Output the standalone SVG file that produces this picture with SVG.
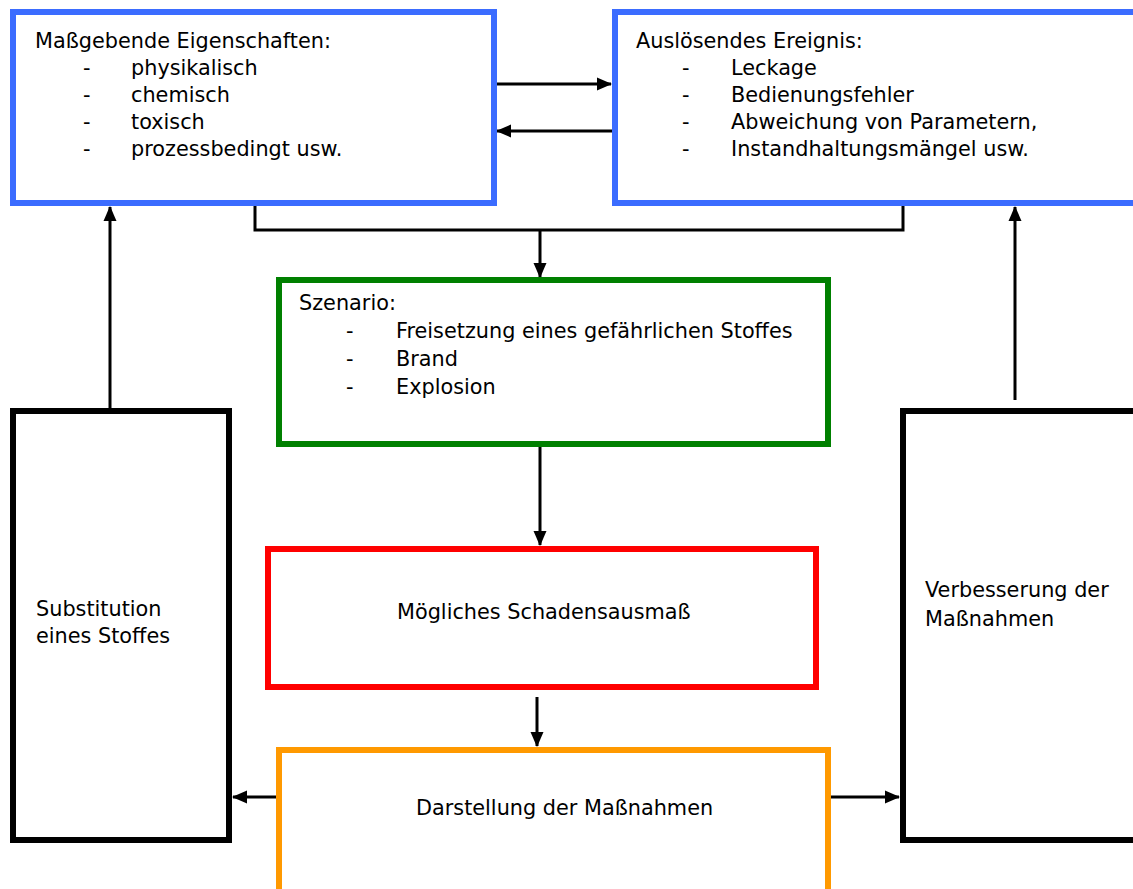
<svg xmlns="http://www.w3.org/2000/svg" width="1133" height="889" viewBox="0 0 1133 889">
<defs>
<style>
.box{fill:#fff;stroke-width:6}
.blue{stroke:#3B6CFF}
.green{stroke:#008000}
.red{stroke:#FF0000}
.orange{stroke:#FF9900}
.black{stroke:#000}
.t{font-family:"DejaVu Sans","Liberation Sans",sans-serif;font-size:20.8px;fill:#000}
.c{fill:none;stroke:#000;stroke-width:3}
</style>
<marker id="ah" markerUnits="userSpaceOnUse" markerWidth="15" markerHeight="15" viewBox="0 0 15 15" refX="14" refY="7.5" orient="auto">
<path d="M0,1 L15,7.5 L0,14 Z" fill="#000"/>
</marker>
</defs>
<rect width="1133" height="889" fill="#fff"/>
<g id="connectors">
<line class="c" x1="496" y1="84" x2="611" y2="84" marker-end="url(#ah)"/>
<line class="c" x1="612" y1="131" x2="497" y2="131" marker-end="url(#ah)"/>
<polyline class="c" points="255,206 255,230 903,230 903,206"/>
<line class="c" x1="540" y1="230" x2="540" y2="277" marker-end="url(#ah)"/>
<line class="c" x1="540" y1="446" x2="540" y2="545" marker-end="url(#ah)"/>
<line class="c" x1="537" y1="697" x2="537" y2="746" marker-end="url(#ah)"/>
<line class="c" x1="110" y1="408" x2="110" y2="207" marker-end="url(#ah)"/>
<line class="c" x1="1015" y1="400" x2="1015" y2="207" marker-end="url(#ah)"/>
<line class="c" x1="276" y1="797" x2="233" y2="797" marker-end="url(#ah)"/>
<line class="c" x1="830" y1="797" x2="899" y2="797" marker-end="url(#ah)"/>
</g>
<g id="eigenschaften">
<rect class="box blue" x="13" y="12" width="481" height="191"/>
<text class="t" x="35" y="48">Maßgebende Eigenschaften:</text>
<text class="t" x="83" y="75">-</text><text class="t" x="131" y="75">physikalisch</text>
<text class="t" x="83" y="102">-</text><text class="t" x="131" y="102">chemisch</text>
<text class="t" x="83" y="129">-</text><text class="t" x="131" y="129">toxisch</text>
<text class="t" x="83" y="156">-</text><text class="t" x="131" y="156">prozessbedingt usw.</text>
</g>
<g id="ereignis">
<rect class="box blue" x="615" y="12" width="530" height="191"/>
<text class="t" x="636" y="48">Auslösendes Ereignis:</text>
<text class="t" x="682" y="75">-</text><text class="t" x="731" y="75">Leckage</text>
<text class="t" x="682" y="102">-</text><text class="t" x="731" y="102">Bedienungsfehler</text>
<text class="t" x="682" y="129">-</text><text class="t" x="731" y="129">Abweichung von Parametern,</text>
<text class="t" x="682" y="156">-</text><text class="t" x="731" y="156">Instandhaltungsmängel usw.</text>
</g>
<g id="szenario">
<rect class="box green" x="279" y="280" width="549" height="164"/>
<text class="t" x="299" y="310">Szenario:</text>
<text class="t" x="346" y="338">-</text><text class="t" x="396" y="338">Freisetzung eines gefährlichen Stoffes</text>
<text class="t" x="346" y="366">-</text><text class="t" x="396" y="366">Brand</text>
<text class="t" x="346" y="394">-</text><text class="t" x="396" y="394">Explosion</text>
</g>
<g id="schaden">
<rect class="box red" x="268" y="549" width="548" height="138"/>
<text class="t" x="397" y="619">Mögliches Schadensausmaß</text>
</g>
<g id="massnahmen">
<rect class="box orange" x="279" y="750" width="549" height="160"/>
<text class="t" x="416" y="815">Darstellung der Maßnahmen</text>
</g>
<g id="substitution">
<rect class="box black" x="13" y="411" width="216" height="429"/>
<text class="t" x="36" y="616">Substitution</text>
<text class="t" x="36" y="643">eines Stoffes</text>
</g>
<g id="verbesserung">
<rect class="box black" x="903" y="411" width="250" height="429"/>
<text class="t" x="925" y="597">Verbesserung der</text>
<text class="t" x="925" y="626">Maßnahmen</text>
</g>
</svg>
